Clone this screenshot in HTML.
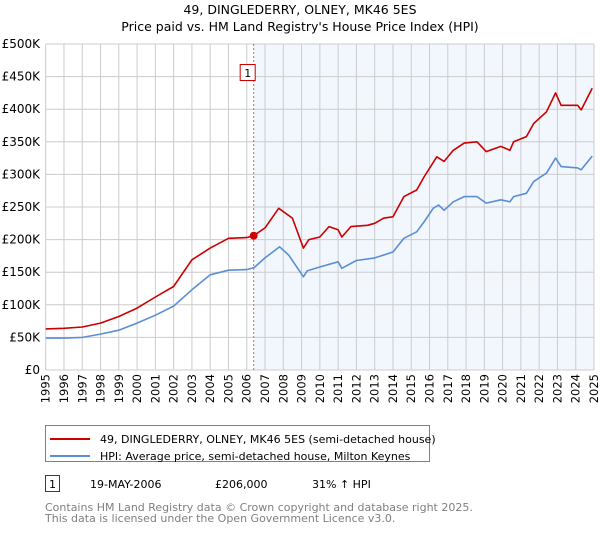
<!DOCTYPE html>
<html><head><meta charset="utf-8"><style>
body{margin:0;background:#fff;font-family:"Liberation Sans","DejaVu Sans",sans-serif;}
svg text{font-family:"DejaVu Sans","Liberation Sans",sans-serif;}
</style></head><body>
<svg id="c" width="600" height="530" xmlns="http://www.w3.org/2000/svg">
<text x="300" y="14" text-anchor="middle" font-size="12.5" fill="#000">49, DINGLEDERRY, OLNEY, MK46 5ES</text>
<text x="300" y="31" text-anchor="middle" font-size="12.5" fill="#000">Price paid vs. HM Land Registry's House Price Index (HPI)</text>
<g id="plot"></g>
<rect x="45.5" y="425.5" width="384" height="36" fill="#fff" stroke="#808080"/>
<line x1="50" y1="439" x2="90" y2="439" stroke="#cc0000" stroke-width="2"/>
<text x="100" y="443" font-size="11">49, DINGLEDERRY, OLNEY, MK46 5ES (semi-detached house)</text>
<line x1="50" y1="456" x2="90" y2="456" stroke="#5b8fd4" stroke-width="2"/>
<text x="100" y="460" font-size="11">HPI: Average price, semi-detached house, Milton Keynes</text>
<rect x="45.5" y="475.5" width="14" height="16" fill="#fff" stroke="#cc0000"/>
<text x="52.5" y="488" text-anchor="middle" font-size="11">1</text>
<text x="90" y="488" font-size="11">19-MAY-2006</text>
<text x="215" y="488" font-size="11">£206,000</text>
<text x="312" y="488" font-size="11">31% ↑ HPI</text>
<text x="45" y="511" font-size="11" fill="#808080">Contains HM Land Registry data © Crown copyright and database right 2025.</text>
<text x="45" y="522" font-size="11" fill="#808080">This data is licensed under the Open Government Licence v3.0.</text>
</svg>
<script>
const yTicks=[0,50,100,150,200,250,300,350,400,450,500];
const yTickLabels=["£0","£50K","£100K","£150K","£200K","£250K","£300K","£350K","£400K","£450K","£500K"];
const xTicks=[1995,1996,1997,1998,1999,2000,2001,2002,2003,2004,2005,2006,2007,2008,2009,2010,2011,2012,2013,2014,2015,2016,2017,2018,2019,2020,2021,2022,2023,2024,2025];
const hpiYears=[1995,1996,1997,1998,1999,2000,2001,2002,2003,2004,2005,2006,2006.4,2007,2007.8,2008.3,2009.1,2009.3,2010,2011,2011.2,2012,2013,2014,2014.6,2015.3,2015.7,2016.2,2016.5,2016.8,2017.3,2017.9,2018.6,2019.1,2019.9,2020.4,2020.6,2021.3,2021.7,2022.4,2022.9,2023.2,2024.1,2024.3,2024.9];
const hpiValues=[49,49,50,55,61,72,84,98,123,146,153,154,157,172,189,176,143,152,158,166,156,168,172,181,202,212,227,248,253,245,258,266,266,256,261,258,266,271,289,302,325,312,310,307,328];
const priceYears=[1995,1996,1997,1998,1999,2000,2001,2002,2003,2004,2005,2006,2006.38,2007,2007.75,2008.5,2009.1,2009.4,2010,2010.5,2011,2011.2,2011.7,2012.6,2013,2013.5,2014,2014.6,2015.3,2015.7,2016.4,2016.8,2017.3,2017.9,2018.6,2019.1,2019.9,2020.4,2020.6,2021.3,2021.7,2022.4,2022.9,2023.2,2024.1,2024.3,2024.9];
const priceValues=[63,64,66,72,82,95,112,128,169,187,202,203,206,218,248,233,187,200,204,220,215,204,220,222,225,233,235,266,276,296,327,320,337,348,350,335,343,337,350,358,378,396,425,406,406,399,432];
const saleYear=2006.38, saleValue=206;
const NS="http://www.w3.org/2000/svg";
const L=45.7,R=594,T=44,B=370;
const xs=y=>L+(y-1995)*(R-L)/30;
const ys=v=>B-v*(B-T)/500;
const g=document.getElementById('plot');
function mk(t,a){const e=document.createElementNS(NS,t);for(const k in a)e.setAttribute(k,a[k]);g.appendChild(e);return e;}
let e=mk('rect',{x:xs(saleYear),y:T,width:R-xs(saleYear),height:B-T,fill:'#eef3fc',opacity:0.75});


yTicks.forEach((v,i)=>{
 let l=mk('line',{x1:L,x2:R,y1:ys(v),y2:ys(v),stroke:'#cccccc','stroke-width':1});
 
 
 let t=mk('text',{x:40,y:ys(v)+4,'text-anchor':'end','font-size':12});
 t.textContent=yTickLabels[i];
 
 
});
xTicks.forEach(y=>{
 let l=mk('line',{x1:xs(y),x2:xs(y),y1:T,y2:B,stroke:'#cccccc','stroke-width':1});
 
 
 const px=xs(y)+4;
 let t=mk('text',{x:px,y:374,'text-anchor':'end','font-size':11.5,transform:'rotate(-90 '+px+' 374)'});
 t.textContent=y;
 
 
});
e=mk('line',{x1:xs(saleYear),x2:xs(saleYear),y1:T,y2:B,stroke:'#e06060','stroke-width':1,'stroke-dasharray':'2,2'});


function path(xa,va,c,n){
 const d=xa.map((y,i)=>(i?'L':'M')+xs(y).toFixed(1)+','+ys(va[i]).toFixed(1)).join('');
 const p=mk('path',{d:d,fill:'none',stroke:c,'stroke-width':1.6,'stroke-linejoin':'round'});
 
 
}
path(hpiYears,hpiValues,'#5b8fd4','hpi-line');
path(priceYears,priceValues,'#cc0000','property-price-line');
e=mk('circle',{cx:xs(saleYear),cy:ys(saleValue),r:4,fill:'#cc0000'});


e=mk('rect',{x:xs(saleYear)-13.5,y:64.5,width:15,height:16,fill:'#fff',stroke:'#cc0000'});


e=mk('text',{x:xs(saleYear)-6,y:77,'text-anchor':'middle','font-size':11});
e.textContent='1';


</script>
</body></html>
